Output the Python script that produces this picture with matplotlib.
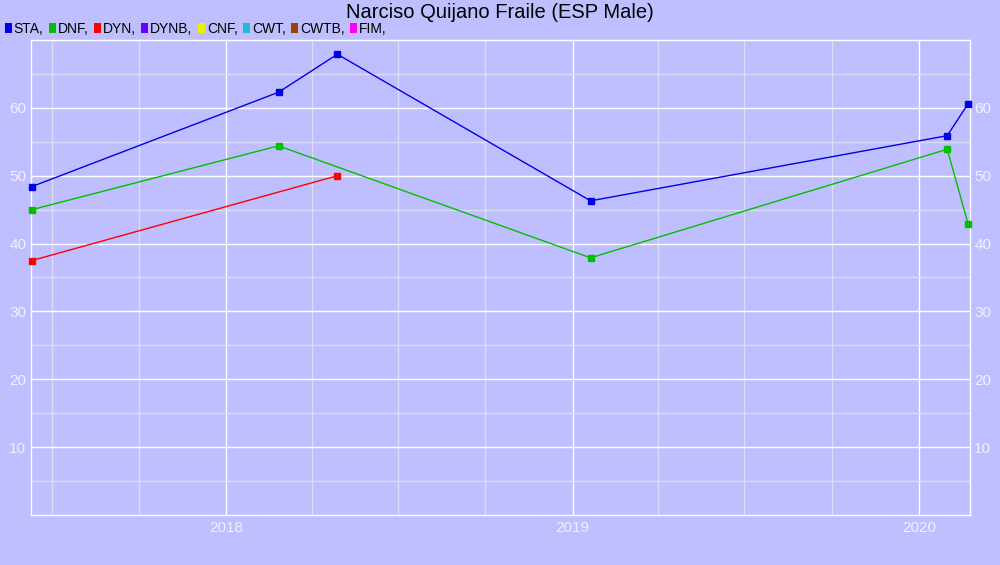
#!/usr/bin/env python3

import matplotlib
matplotlib.use("Agg")
import matplotlib.pyplot as plt
import matplotlib.dates as mdates
from matplotlib.patches import Rectangle
import numpy as np
from datetime import datetime, timedelta

plt.rcParams["font.family"] = ["Liberation Sans", "DejaVu Sans"]

title = "Narciso Quijano Fraile (ESP Male)"

# Legend entries (discipline, colour)
disciplines = ["STA", "DNF", "DYN", "DYNB", "CNF", "CWT", "CWTB", "FIM"]
colours = ["#0000E6", "#00C000", "#FF0000", "#6600FF", "#EEEE00", "#22BBCC", "#994400", "#FF00FF"]

# Results
sta_dates = ["2017-06-10", "2018-02-25", "2018-04-28", "2019-01-20", "2020-01-31", "2020-02-22"]
sta_values = [48.4, 62.3, 67.9, 46.3, 55.9, 60.6]

dnf_dates = ["2017-06-10", "2018-02-25", "2019-01-20", "2020-01-31", "2020-02-22"]
dnf_values = [45.0, 54.4, 37.9, 53.9, 42.9]

dyn_dates = ["2017-06-10", "2018-04-28"]
dyn_values = [37.5, 50.0]

series = [(sta_dates, sta_values, colours[0]),
          (dnf_dates, dnf_values, colours[1]),
          (dyn_dates, dyn_values, colours[2])]

bg = "#BFBFFF"
label_col = "#F0F0FF"

fig = plt.figure(figsize=(10, 5.65), dpi=100, facecolor=bg)
ax = fig.add_axes([0.0305, 0.0885, 0.9395, 0.8407], facecolor=bg)

for dates, values, col in series:
	d = [datetime.strptime(s, "%Y-%m-%d") for s in dates]
	ax.plot(d, values, color=col, lw=1, marker="s", ms=5, mec=col, mfc=col, clip_on=False, zorder=3)

first = datetime.strptime(sta_dates[0], "%Y-%m-%d")
last = datetime.strptime(sta_dates[-1], "%Y-%m-%d")
ax.set_xlim(first - timedelta(days=1.5), last + timedelta(days=2))
ax.set_ylim(0, 70)

ax.xaxis.set_major_locator(mdates.YearLocator())
ax.xaxis.set_major_formatter(mdates.DateFormatter("%Y"))
ax.xaxis.set_minor_locator(mdates.MonthLocator(bymonth=(1, 4, 7, 10)))
ax.set_yticks([10, 20, 30, 40, 50, 60])
ax.set_yticks(np.arange(5, 70, 10), minor=True)

ax.grid(which="major", color="white", lw=1)
ax.grid(which="minor", color="#DCDCF5", lw=1)
ax.set_axisbelow(True)

ax.tick_params(which="both", length=0, colors=label_col, labelsize=11)
ax.tick_params(axis="x", pad=4)
ax.tick_params(axis="y", pad=3, labelright=True)
for sp in ax.spines.values():
	sp.set_color("white")
	sp.set_linewidth(1)

fig.text(0.5, 0.978, title, ha="center", va="center", fontsize=14.5, color="black")

# Hand-made legend row along the top
x = 0.005
for name, col in zip(disciplines, colours):
	fig.patches.append(Rectangle((x, 0.9415), 0.0068, 0.0175, transform=fig.transFigure,
		facecolor=col, edgecolor="none"))
	t = fig.text(x + 0.0088, 0.949, name + ",", ha="left", va="center", fontsize=10, color="black")
	fig.canvas.draw()
	bb = t.get_window_extent()
	x = bb.x1 / 1000 + 0.0055

fig.savefig("out.png", dpi=100, facecolor=bg)
